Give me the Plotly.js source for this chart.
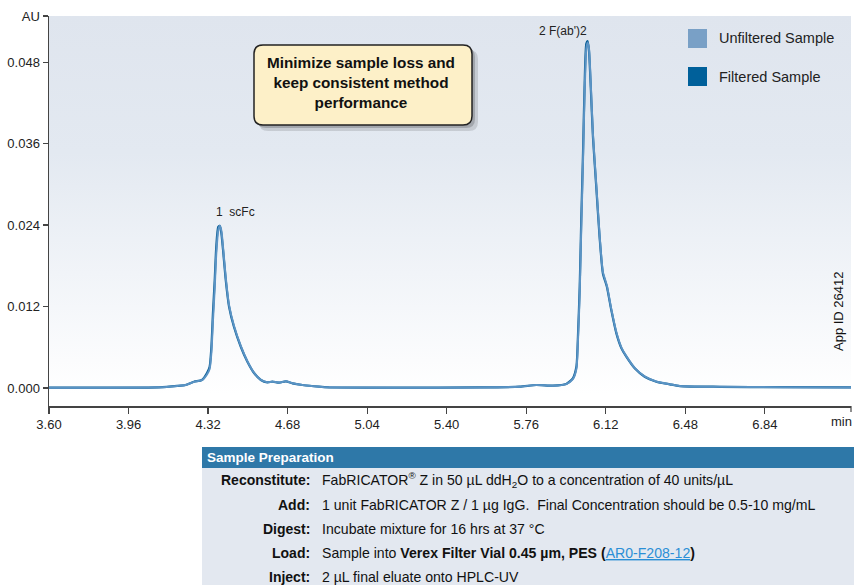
<!DOCTYPE html>
<html>
<head>
<meta charset="utf-8">
<script src="https://cdn.plot.ly/plotly-3.0.1.min.js"></script>
<style>
html,body{margin:0;padding:0;background:#fff;}
#chart{width:854px;height:585px;}
</style>
</head>
<body>
<div id="chart"></div>
<script>
// ---- data ----
const timeMin = [3.600, 3.825, 4.097, 4.180, 4.218, 4.256, 4.292, 4.315, 4.327, 4.335, 4.342, 4.350, 4.357, 4.366, 4.373, 4.380, 4.389, 4.400, 4.415, 4.437, 4.468, 4.498, 4.528, 4.559, 4.588, 4.611, 4.642, 4.672, 4.702, 4.747, 4.823, 4.868, 5.186, 5.548, 5.730, 5.805, 5.881, 5.941, 5.971, 5.987, 5.994, 6.002, 6.009, 6.017, 6.024, 6.032, 6.038, 6.044, 6.052, 6.062, 6.077, 6.092, 6.107, 6.125, 6.145, 6.168, 6.191, 6.213, 6.251, 6.296, 6.349, 6.410, 6.455, 6.636, 6.909, 7.230];
const filteredAU = [0.00005, 0.00005, 0.0001, 0.0003, 0.00044, 0.00093, 0.00118, 0.00221, 0.00314, 0.00608, 0.01104, 0.01590, 0.02080, 0.02374, 0.02389, 0.02282, 0.01987, 0.01590, 0.01197, 0.00902, 0.00608, 0.00387, 0.00221, 0.00118, 0.00084, 0.00093, 0.00078, 0.00099, 0.00069, 0.00044, 0.00019, 0.0001, 0.00005, 0.00008, 0.00019, 0.00044, 0.00034, 0.00059, 0.00143, 0.00314, 0.00755, 0.01491, 0.02473, 0.03459, 0.04435, 0.05074, 0.05110, 0.04975, 0.04435, 0.03699, 0.02963, 0.02227, 0.01688, 0.01491, 0.01148, 0.00805, 0.00584, 0.00461, 0.00290, 0.00166, 0.00093, 0.00054, 0.00029, 0.00018, 0.00012, 0.00008];
const unfilteredAU = [0.00005, 0.00005, 0.0001, 0.0003, 0.00044, 0.00090, 0.00115, 0.00200, 0.00280, 0.00520, 0.00980, 0.01470, 0.01970, 0.02320, 0.02390, 0.02320, 0.02030, 0.01630, 0.01220, 0.00920, 0.00620, 0.00395, 0.00225, 0.00120, 0.00086, 0.00094, 0.00080, 0.00100, 0.00070, 0.00045, 0.00020, 0.0001, 0.00005, 0.00008, 0.00019, 0.00044, 0.00034, 0.00058, 0.00130, 0.00280, 0.00680, 0.01380, 0.02340, 0.03330, 0.04310, 0.05000, 0.05090, 0.05000, 0.04500, 0.03740, 0.03000, 0.02260, 0.01710, 0.01510, 0.01165, 0.00820, 0.00595, 0.00470, 0.00296, 0.00170, 0.00095, 0.00055, 0.00030, 0.00018, 0.00012, 0.00008];
const seriesNames = ['Unfiltered Sample', 'Filtered Sample'];
const xTickVals = [3.60, 3.96, 4.32, 4.68, 5.04, 5.40, 5.76, 6.12, 6.48, 6.84];
const xTickText = ['3.60', '3.96', '4.32', '4.68', '5.04', '5.40', '5.76', '6.12', '6.48', '6.84'];
const xUnit = 'min';
const yTickVals = [0, 0.012, 0.024, 0.036, 0.048, 0.0548];
const yTickText = ['0.000', '0.012', '0.024', '0.036', '0.048', 'AU'];
const peakLabels = ['1&nbsp; scFc', "2 F(ab')2"];
const prepLabels = ['Reconstitute:', 'Add:', 'Digest:', 'Load:', 'Inject:'];
const prepTexts = [
  'FabRICATOR<sup>®</sup> Z in 50 µL ddH<sub>2</sub>O to a concentration of 40 units/µL',
  '1 unit FabRICATOR Z / 1 µg IgG.  Final Concentration should be 0.5-10 mg/mL',
  'Incubate mixture for 16 hrs at 37 °C',
  'Sample into <b>Verex Filter Vial 0.45 µm, PES (</b><span style="color:#2b8fd6;text-decoration:underline">AR0-F208-12</span><b>)</b>',
  '2 µL final eluate onto HPLC-UV'
];

// ---- layout helpers (pixel -> paper) ----
const L = 49, T = 16, W = 802, H = 390;
const px = v => (v - L) / W;
const py = v => (T + H - v) / H;
function rrect(x0, y0, x1, y1, r) {
  const rx = r / W, ry = r / H;
  const a = px(x0), b = px(x1), c = py(y0), d = py(y1);
  return `M${a + rx},${c} L${b - rx},${c} Q${b},${c} ${b},${c - ry} L${b},${d + ry} Q${b},${d} ${b - rx},${d} L${a + rx},${d} Q${a},${d} ${a},${d + ry} L${a},${c - ry} Q${a},${c} ${a + rx},${c} Z`;
}
const SANS = '"Liberation Sans", Arial, sans-serif';
const lightBlue = '#79a0c6', darkBlue = '#00609a';

const traces = [
  {x: timeMin, y: filteredAU, name: seriesNames[1], type: 'scatter', mode: 'lines',
   line: {color: '#0b5f96', width: 2.2, shape: 'spline', smoothing: 0.6}, showlegend: false},
  {x: timeMin, y: unfilteredAU, name: seriesNames[0], type: 'scatter', mode: 'lines',
   line: {color: '#5a93c4', width: 2, shape: 'spline', smoothing: 0.6}, showlegend: false}
];

const bgSvg = "<svg xmlns='http://www.w3.org/2000/svg' width='10' height='100' viewBox='0 0 10 100' preserveAspectRatio='none'><defs><linearGradient id='g' x1='0' y1='0' x2='0' y2='1'><stop offset='0' stop-color='#dfe5ee'/><stop offset='0.35' stop-color='#e3e9f1'/><stop offset='0.97' stop-color='#ffffff'/></linearGradient></defs><rect width='10' height='100' fill='url(#g)'/></svg>";

const shapes = [
  // end-of-axis tick
  {type: 'line', xref: 'paper', yref: 'paper', x0: 1, x1: 1, y0: 0, y1: -6 / H, line: {color: '#444', width: 1.2}},
  // callout shadow + box
  {type: 'path', xref: 'paper', yref: 'paper', path: rrect(259, 50, 478, 131, 9), fillcolor: 'rgba(0,0,0,0.12)', line: {width: 0}},
  {type: 'path', xref: 'paper', yref: 'paper', path: rrect(257, 48, 475, 128, 9), fillcolor: 'rgba(0,0,0,0.18)', line: {width: 0}},
  {type: 'path', xref: 'paper', yref: 'paper', path: rrect(254, 45, 472, 125, 9), fillcolor: '#fdf0c8', line: {color: '#222', width: 1.5}},
  // legend swatches
  {type: 'rect', xref: 'paper', yref: 'paper', x0: px(688), x1: px(707), y0: py(29), y1: py(48), fillcolor: lightBlue, line: {width: 0}},
  {type: 'rect', xref: 'paper', yref: 'paper', x0: px(688), x1: px(707), y0: py(67), y1: py(86), fillcolor: darkBlue, line: {width: 0}},
  // table
  {type: 'rect', xref: 'paper', yref: 'paper', x0: px(202), x1: px(856), y0: py(447), y1: py(468), fillcolor: '#2e78a8', line: {width: 0}},
  {type: 'rect', xref: 'paper', yref: 'paper', x0: px(202), x1: px(856), y0: py(468), y1: py(588), fillcolor: '#e3e8f0', line: {width: 0}}
];

const A = (o) => Object.assign({showarrow: false, xanchor: 'center', yanchor: 'middle'}, o);
const annotations = [
  A({xref: 'paper', yref: 'paper', x: px(361), y: py(83), align: 'center',
   text: '<b>Minimize sample loss and<br>keep consistent method<br>performance</b>', font: {family: SANS, size: 15.3, color: '#111'}}),
  A({xref: 'paper', yref: 'paper', x: px(717), y: py(38), xanchor: 'left', text: seriesNames[0], font: {family: SANS, size: 14.5, color: '#222'}}),
  A({xref: 'paper', yref: 'paper', x: px(717), y: py(77), xanchor: 'left', text: seriesNames[1], font: {family: SANS, size: 14.5, color: '#222'}}),
  A({xref: 'x', yref: 'paper', x: 4.373, y: py(212), xshift: 16, text: peakLabels[0], font: {family: SANS, size: 12, color: '#222'}}),
  A({xref: 'x', yref: 'paper', x: 6.038, y: py(31), xshift: -25, text: peakLabels[1], font: {family: SANS, size: 12, color: '#222'}}),
  A({xref: 'paper', yref: 'paper', x: px(838), y: py(311), textangle: -90, text: 'App ID 26412', font: {family: SANS, size: 13, color: '#111'}}),
  A({xref: 'paper', yref: 'paper', x: 1, y: py(421), xanchor: 'right', xshift: 3, text: xUnit, font: {family: SANS, size: 13, color: '#222'}}),
  A({xref: 'paper', yref: 'paper', x: px(205), y: py(457.5), xanchor: 'left', text: '<b>Sample Preparation</b>', font: {family: SANS, size: 13.5, color: '#fff'}})
];
const rowY = [480, 505, 529, 553, 577];
prepLabels.forEach((lab, i) => {
  annotations.push(A({xref: 'paper', yref: 'paper', x: px(312), y: py(rowY[i]), xanchor: 'right',
    text: '<b>' + lab + '</b>', font: {family: SANS, size: 14, color: '#111'}}));
  annotations.push(A({xref: 'paper', yref: 'paper', x: px(320), y: py(rowY[i]), xanchor: 'left',
    text: prepTexts[i], font: {family: SANS, size: 14.1, color: '#111'}}));
});

const layout = {
  width: 854, height: 585,
  margin: {l: L, r: 854 - L - W, t: T, b: 585 - T - H, pad: 0},
  paper_bgcolor: '#ffffff', plot_bgcolor: 'rgba(0,0,0,0)',
  showlegend: false,
  xaxis: {range: [3.6, 7.23], tickvals: xTickVals, ticktext: xTickText, ticks: 'outside', ticklen: 6, tickwidth: 1.2,
    tickcolor: '#444', showline: true, linecolor: '#444', linewidth: 1.5, showgrid: false, zeroline: false,
    tickfont: {family: SANS, size: 13, color: '#222'}, fixedrange: true},
  yaxis: {range: [-0.00265, 0.0548], tickvals: yTickVals, ticktext: yTickText, ticks: 'outside', ticklen: 5, tickwidth: 1.2,
    tickcolor: '#444', showline: true, linecolor: '#444', linewidth: 1.5, showgrid: false, zeroline: false,
    tickfont: {family: SANS, size: 13, color: '#222'}, fixedrange: true},
  images: [{source: 'data:image/svg+xml;charset=utf-8,' + encodeURIComponent(bgSvg), xref: 'paper', yref: 'paper',
    x: 0, y: 1, sizex: 1, sizey: 1, sizing: 'stretch', xanchor: 'left', yanchor: 'top', layer: 'below'}],
  shapes: shapes,
  annotations: annotations
};

Plotly.newPlot('chart', traces, layout, {displayModeBar: false, staticPlot: true});
</script>
</body>
</html>
